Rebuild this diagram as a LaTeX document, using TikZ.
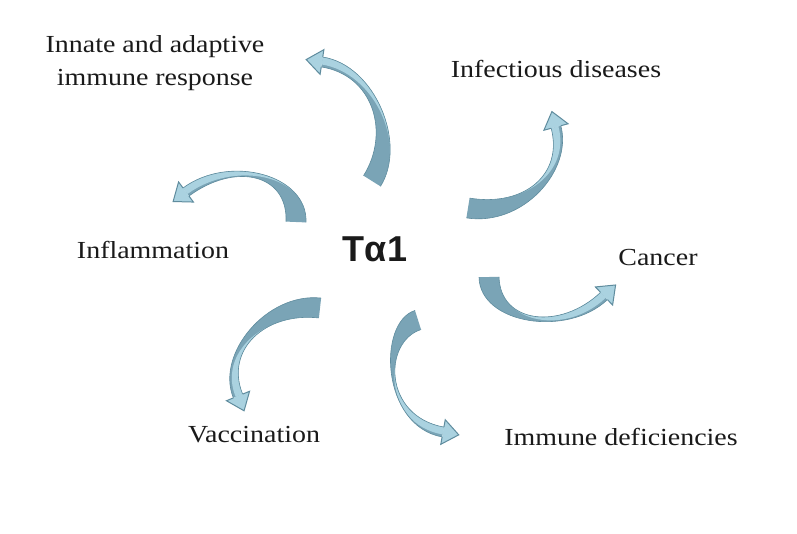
\documentclass[tikz,border=0pt]{standalone}
\usepackage{fontspec}
\setmainfont{Liberation Serif}[FakeStretch=1.14]
\newfontfamily\tafont{Liberation Sans}
\usetikzlibrary{calc}
\definecolor{ribdark}{HTML}{7AA4B6}
\definecolor{riblight}{HTML}{AAD2E0}
\definecolor{ribline}{HTML}{5F8C9E}
\definecolor{txt}{HTML}{1A1A1A}
\newcommand{\ribarrow}[8]{%
  % #1 name, #2 tail, #3 ctrl1, #4 ctrl2, #5 head base, #6 tail half width, #7 light side (90/-90), #8 neck half width
  \pgfmathsetmacro\sideO{-1*(#7)}%
  \pgfmathsetmacro\halfn{0.5*#8}%
  \coordinate (#1T) at #2;
  \coordinate (#1A) at #3;
  \coordinate (#1B) at #4;
  \coordinate (#1H) at #5;
  \coordinate (#1TL) at ($(#1T)!#6pt!90:(#1A)$);
  \coordinate (#1TR) at ($(#1T)!#6pt!-90:(#1A)$);
  \coordinate (#1HL) at ($(#1H)!#8pt!-90:(#1B)$);
  \coordinate (#1HR) at ($(#1H)!#8pt!90:(#1B)$);
  \coordinate (#1AL) at ($(#1A)+(#1TL)-(#1T)$);
  \coordinate (#1AR) at ($(#1A)+(#1TR)-(#1T)$);
  \coordinate (#1BL) at ($(#1B)+(#1HL)-(#1H)$);
  \coordinate (#1BR) at ($(#1B)+(#1HR)-(#1H)$);
  % light face
  \coordinate (#1Ts) at ($(#1T)!#6pt!#7:(#1A)$);
  \coordinate (#1As) at ($(#1A)+(#1Ts)-(#1T)$);
  \coordinate (#1Hs) at ($(#1H)!#8pt!\sideO:(#1B)$);
  \coordinate (#1Bs) at ($(#1B)+(#1Hs)-(#1H)$);
  \coordinate (#1Ho) at ($(#1H)!\halfn pt!#7:(#1B)$);
  \coordinate (#1Bo) at ($(#1B)+(#1Ho)-(#1H)$);
  % head
  \coordinate (#1P) at ($(#1H)!-16pt!(#1B)$);
  \coordinate (#1K1) at ($(#1H)!12.5pt!-90:(#1B)$);
  \coordinate (#1K2) at ($(#1H)!12.5pt!90:(#1B)$);
  \fill[ribdark] (#1TL) .. controls (#1AL) and (#1BL) .. (#1HL) -- (#1HR) .. controls (#1BR) and (#1AR) .. (#1TR) -- cycle;
  \fill[riblight] (#1Ts) .. controls (#1As) and (#1Bs) .. (#1Hs) -- (#1Ho) .. controls (#1Bo) and (#1As) .. (#1Ts) -- cycle;
  \draw[ribline, line width=0.6pt, line join=round] (#1TL) .. controls (#1AL) and (#1BL) .. (#1HL) (#1HR) .. controls (#1BR) and (#1AR) .. (#1TR);
  \filldraw[fill=riblight, draw=ribline, line width=1pt, line join=miter] (#1HL) -- (#1K1) -- (#1P) -- (#1K2) -- (#1HR);
}
\tikzset{
  lbl/.style={text=txt, font=\fontsize{24.5}{33}\selectfont, inner sep=0pt, anchor=base},
}
\begin{document}
\begin{tikzpicture}[x=1pt, y=-1pt]
  \useasboundingbox[fill=white] (0,0) rectangle (797,533);
  % labels
  \node[lbl, align=center, anchor=center] (innate) at (155,63) {Innate and adaptive\\immune response};
  \node[lbl] (infect) at (556,77) {Infectious diseases};
  \node[lbl] (inflam) at (153,258) {Inflammation};
  \node[lbl] (cancer) at (658,265) {Cancer};
  \node[lbl] (vacc) at (254,442) {Vaccination};
  \node[lbl] (immdef) at (621,445) {Immune deficiencies};
  \node[text=txt, font=\tafont\bfseries\fontsize{36}{40}\selectfont, inner sep=0pt, anchor=base] (ta) at (375,261) {T\char"03B1 1};
  % curved ribbon arrows
  \ribarrow{a}{(372,181)}{(399,138)}{(374,70)}{(322,62)}{10}{-90}{5}
  \ribarrow{b}{(468,208)}{(524,217)}{(568,172)}{(556,127)}{10}{90}{5}
  \ribarrow{c}{(296,222)}{(298,174)}{(232,158)}{(186,192)}{10}{-90}{5}
  \ribarrow{d}{(489,277)}{(490,324)}{(564,334)}{(604,296)}{10}{90}{5}
  \ribarrow{e}{(320,308)}{(266,302)}{(220,352)}{(238,396)}{10}{90}{5}
  \ribarrow{f}{(418,320)}{(380,332)}{(382,421)}{(443,432)}{10}{90}{5}
\end{tikzpicture}
\end{document}
